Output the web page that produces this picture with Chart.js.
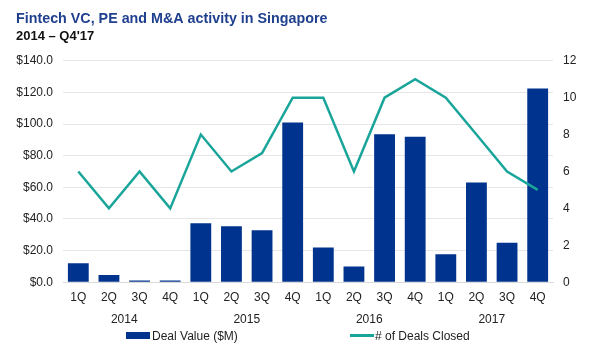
<!DOCTYPE html>
<html>
<head>
<meta charset="utf-8">
<script src="https://cdn.jsdelivr.net/npm/chart.js@4/dist/chart.umd.min.js"></script>
<style>
  body { margin: 0; background: #fff; font-family: Arial, "Liberation Sans", sans-serif; }
  #wrap { position: relative; width: 600px; height: 360px; }
  #legend { position: absolute; left: 0; top: 329px; width: 600px; font-size: 12px; line-height: 14px; color: #222; }
  .item { position: absolute; top: 0; white-space: nowrap; }
  .box { display: inline-block; width: 24px; height: 7px; background: #00338d; vertical-align: middle; margin-right: 2px; position: relative; top: -1px; }
  .ln { display: inline-block; width: 24px; height: 3px; background: #1aa59a; vertical-align: middle; margin-right: 1px; position: relative; top: -1px; }
</style>
</head>
<body>
<div id="wrap">
  <canvas id="myChart" width="600" height="360"></canvas>
  <div id="legend">
    <span class="item" style="left:126px"><span class="box"></span>Deal Value ($M)</span>
    <span class="item" style="left:350px"><span class="ln"></span># of Deals Closed</span>
  </div>
</div>
<script>
var quarters = ['1Q', '2Q', '3Q', '4Q', '1Q', '2Q', '3Q', '4Q', '1Q', '2Q', '3Q', '4Q', '1Q', '2Q', '3Q', '4Q'];
var years = ['2014', '2015', '2016', '2017'];
var dealValue = [12, 4.5, 1, 1, 37.2, 35.3, 32.8, 101, 22, 10, 93.5, 92, 17.7, 63, 25, 122.5];
var dealsClosed = [6, 4, 6, 4, 8, 6, 7, 10, 10, 6, 10, 11, 10, 8, 6, 5];

var ctx = document.getElementById('myChart').getContext('2d');
var chart = new Chart(ctx, {
    type: 'bar',
    data: {
        labels: quarters,
        datasets: [{
            type: 'line',
            label: '# of Deals Closed',
            data: dealsClosed,
            borderColor: '#1aa59a',
            backgroundColor: '#1aa59a',
            borderWidth: 2.5,
            pointRadius: 0,
            tension: 0,
            yAxisID: 'y1',
            order: 0
        }, {
            label: 'Deal Value ($M)',
            data: dealValue,
            backgroundColor: '#00338d',
            barPercentage: 0.68,
            categoryPercentage: 1,
            yAxisID: 'y',
            order: 1
        }]
    },
    options: {
        responsive: false,
        animation: false,
        layout: { padding: { left: 16, right: 24, top: 0, bottom: 25 } },
        plugins: {
            legend: { display: false },
            tooltip: { enabled: false },
            title: {
                display: true,
                text: 'Fintech VC, PE and M&A activity in Singapore',
                align: 'start',
                color: '#1f3f8f',
                font: { family: 'Arial', size: 14.3, weight: 'bold' },
                padding: { top: 10, bottom: 0 }
            },
            subtitle: {
                display: true,
                text: '2014 \u2013 Q4\'17',
                align: 'start',
                color: '#111',
                font: { family: 'Arial', size: 13, weight: 'bold' },
                padding: { top: 1, bottom: 17 }
            }
        },
        scales: {
            x: {
                grid: { display: false },
                border: { color: '#d9d9d9' },
                ticks: { color: '#222', font: { family: 'Arial', size: 12 }, padding: 0 }
            },
            x2: {
                type: 'category',
                labels: years,
                position: 'bottom',
                offset: true,
                grid: { display: false, drawTicks: false },
                border: { display: false },
                ticks: { color: '#222', font: { family: 'Arial', size: 12 }, padding: 8 }
            },
            y: {
                position: 'left',
                min: 0,
                max: 140,
                afterFit: function (scale) { scale.width = 47; },
                ticks: {
                    stepSize: 20,
                    color: '#222',
                    padding: 10,
                    font: { family: 'Arial', size: 12 },
                    callback: function (v) { return '$' + v.toFixed(1); }
                },
                grid: { color: '#e6e6e6', drawTicks: false },
                border: { display: false }
            },
            y1: {
                position: 'right',
                min: 0,
                max: 12,
                afterFit: function (scale) { scale.width = 23; },
                ticks: { stepSize: 2, color: '#222', font: { family: 'Arial', size: 12 }, padding: 10 },
                grid: { display: false, drawTicks: false },
                border: { display: false }
            }
        }
    }
});
</script>
</body>
</html>
